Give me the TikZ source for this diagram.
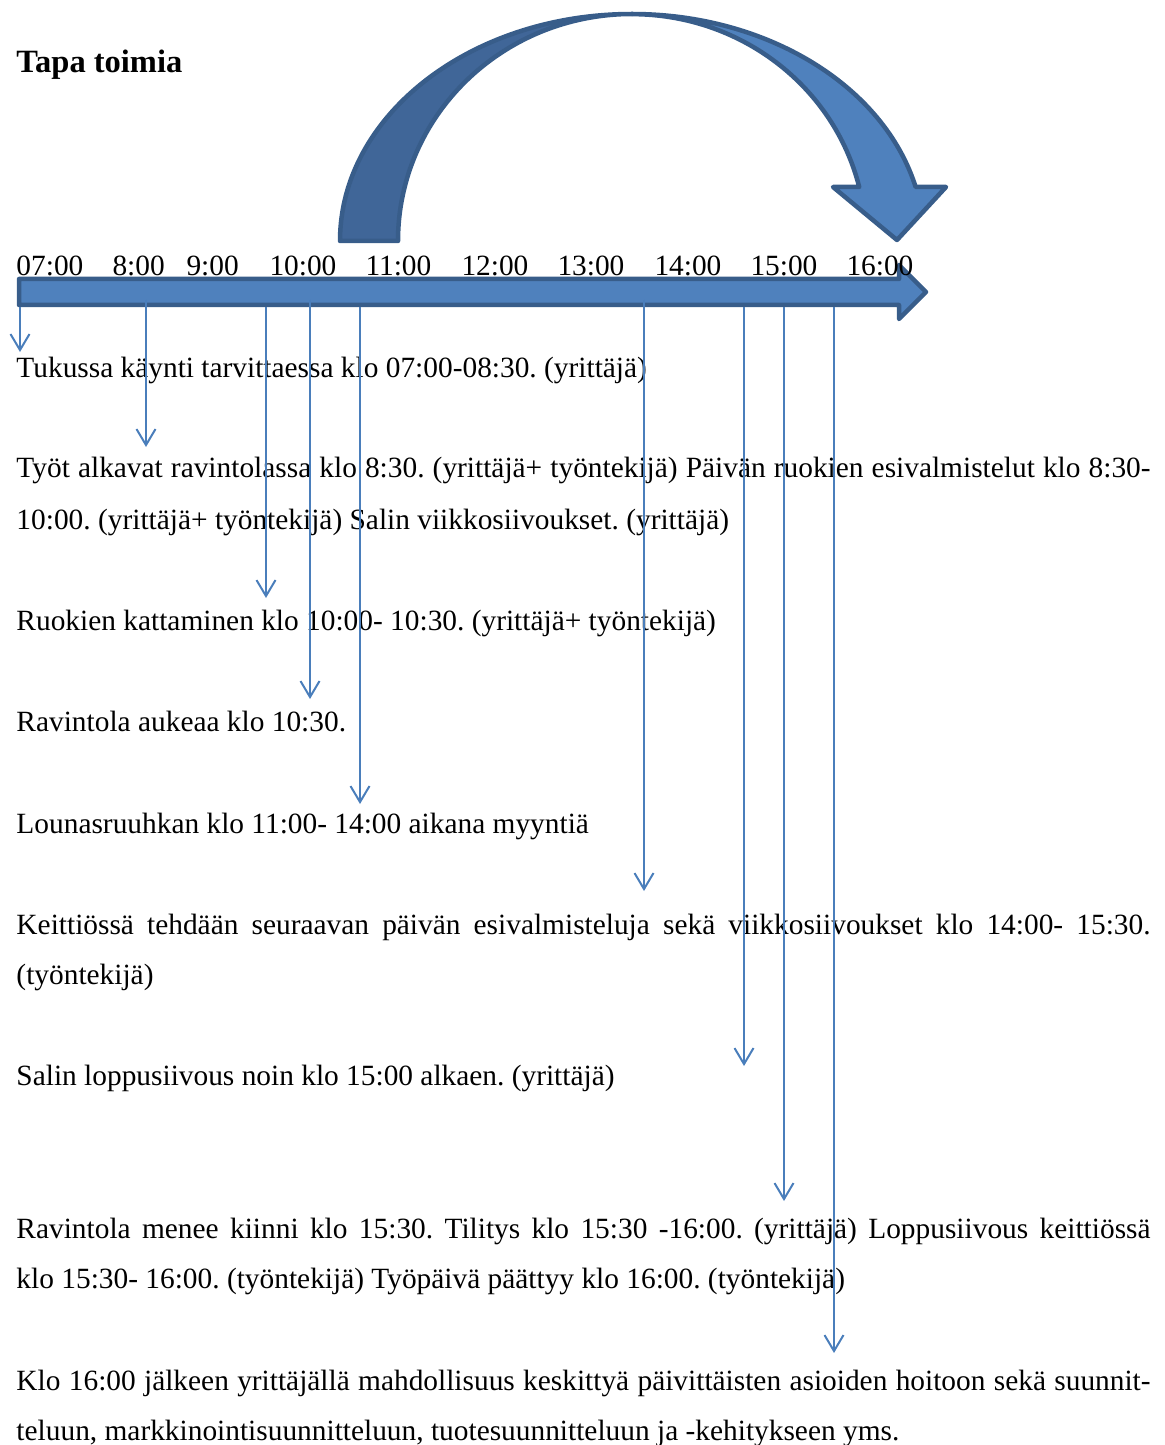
\documentclass[tikz,border=0pt]{standalone}
\usepackage{fontspec}
\setmainfont{Liberation Serif}
\usetikzlibrary{arrows.meta}
\definecolor{officeblue}{HTML}{4F81BD}
\definecolor{officeshade}{HTML}{406698}
\definecolor{officeline}{HTML}{385D8A}
\definecolor{linkblue}{HTML}{4A7EBB}
\frenchspacing

\begin{document}
\begin{tikzpicture}[x=0.4pt, y=-0.4pt,
  txt/.style={anchor=base west, inner sep=0pt, font=\fontsize{11.75}{14}\selectfont},
  bigarrow/.style={draw=officeline, line width=1.8pt, line join=round},
  drop/.style={linkblue, line width=0.8pt, -{Straight Barb[length=6.4pt, width=7.6pt]}}]

  \useasboundingbox (0,0) rectangle (1165,1445);
  \def\tw{453.6pt}

  % ── title ────────────────────────────────────────────────────────────────
  \node[txt, font=\fontsize{13}{15}\selectfont\bfseries] (title) at (16,73) {Tapa toimia};

  % ── curved arrow over the day ────────────────────────────────────────────
  % outer ellipse rx=292, inner rx=234, both ry=227, centre (\cx,\cy)
  \def\cx{632}\def\cy{241}
  \fill[officeshade, bigarrow]
    (\cx-292,\cy) arc[start angle=180, end angle=270, x radius=292, y radius=227]
    arc[start angle=270, end angle=180, x radius=234, y radius=227] -- cycle;
  \fill[officeblue, bigarrow]
    (\cx,\cy-227) arc[start angle=270, end angle=346.2, x radius=292, y radius=227]
    -- (946,187) -- (897,240) -- (833,187) -- (859.2,187)
    arc[start angle=346.2, end angle=270, x radius=234, y radius=227] -- cycle;

  % ── time axis ────────────────────────────────────────────────────────────
  \fill[officeblue, bigarrow]
    (19,279) -- (899,279) -- (899,265) -- (926,292) -- (899,319) -- (899,305) -- (19,305) -- cycle;

  \foreach \t/\x [count=\i] in {07:00/16, 8:00/112, 9:00/186, 10:00/269, 11:00/365,
                                12:00/461, 13:00/557, 14:00/654, 15:00/750, 16:00/846}{
    \node[txt] (h\i) at (\x,276) {\t};
  }

  % ── what happens when ────────────────────────────────────────────────────
  \node[txt] (p1) at (16,377) {Tukussa käynti tarvittaessa klo 07:00-08:30. (yrittäjä)};
  \node[txt] (p2a) at (16,477) {\makebox[\tw][s]{Työt alkavat ravintolassa klo 8:30. (yrittäjä+ työntekijä) Päivän ruokien esivalmistelut klo 8:30-}};
  \node[txt] (p2b) at (16,529) {10:00. (yrittäjä+ työntekijä) Salin viikkosiivoukset. (yrittäjä)};
  \node[txt] (p3) at (16,630) {Ruokien kattaminen klo 10:00- 10:30. (yrittäjä+ työntekijä)};
  \node[txt] (p4) at (16,731) {Ravintola aukeaa klo 10:30.};
  \node[txt] (p5) at (16,833) {Lounasruuhkan klo 11:00- 14:00 aikana myyntiä};
  \node[txt] (p6a) at (16,934) {\makebox[\tw][s]{Keittiössä tehdään seuraavan päivän esivalmisteluja sekä viikkosiivoukset klo 14:00- 15:30.}};
  \node[txt] (p6b) at (16,984) {(työntekijä)};
  \node[txt] (p7) at (16,1085) {Salin loppusiivous noin klo 15:00 alkaen. (yrittäjä)};
  \node[txt] (p8a) at (16,1238) {\makebox[\tw][s]{Ravintola menee kiinni klo 15:30. Tilitys klo 15:30 -16:00. (yrittäjä) Loppusiivous keittiössä}};
  \node[txt] (p8b) at (16,1288) {klo 15:30- 16:00. (työntekijä) Työpäivä päättyy klo 16:00. (työntekijä)};
  \node[txt] (p9a) at (16,1390) {\makebox[\tw][s]{Klo 16:00 jälkeen yrittäjällä mahdollisuus keskittyä päivittäisten asioiden hoitoon sekä suunnit-}};
  \node[txt] (p9b) at (16,1440) {teluun, markkinointisuunnitteluun, tuotesuunnitteluun ja -kehitykseen yms.};

  % ── drop lines from the axis ─────────────────────────────────────────────
  \foreach \n/\x/\ys/\ye in {a/20/307/352, b/146/300/447, c/266/307/598, d/310/300/699,
                             e/360/307/804, f/644/300/891, g/744/307/1066, h/784/307/1201,
                             k/834/307/1353}{
    \coordinate (\n-top) at (\x,\ys);
    \coordinate (\n-end) at (\x,\ye);
    \draw[drop] (\n-top) -- (\n-end);
  }

\end{tikzpicture}
\end{document}
